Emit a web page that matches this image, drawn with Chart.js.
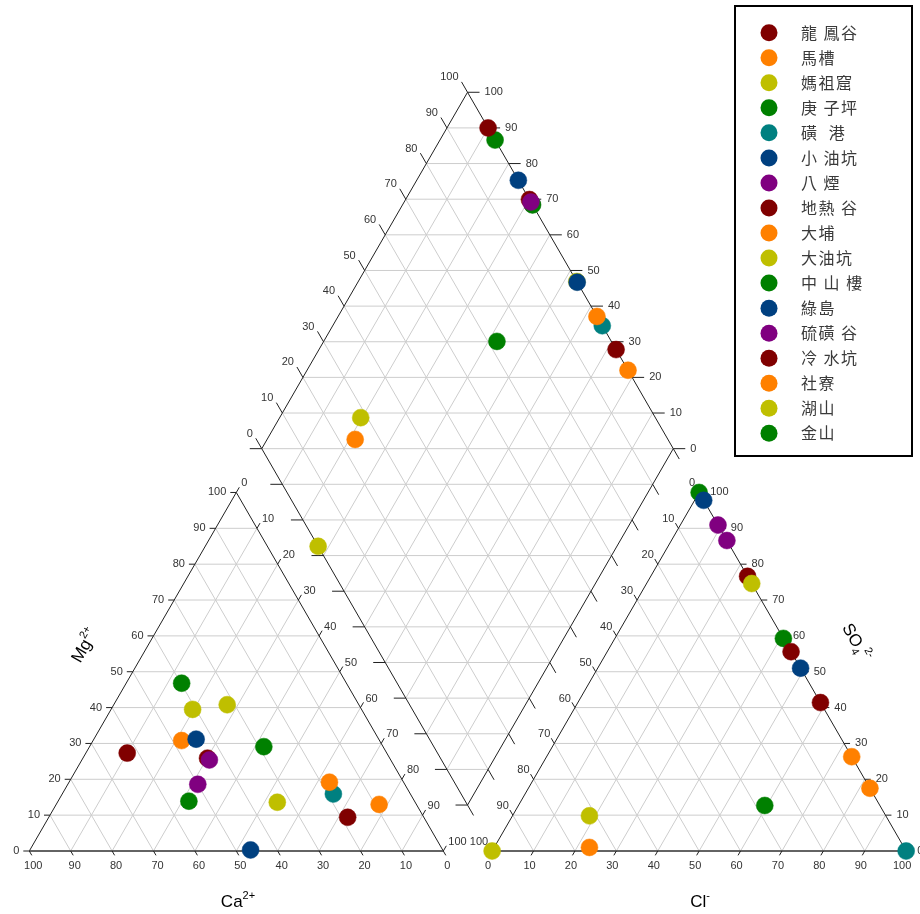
<!DOCTYPE html>
<html>
<head>
<meta charset="utf-8">
<script src="https://cdn.jsdelivr.net/npm/chart.js@4.4.1/dist/chart.umd.min.js"></script>
<style>
  html, body { margin: 0; padding: 0; background: #ffffff; }
  #wrap { width: 920px; height: 914px; position: relative; }
</style>
</head>
<body>
<div id="wrap"><canvas id="piper" width="920" height="914"></canvas></div>
<script>
// Sampling sites (legend order) and their marker colours
const sites = ['龍 鳳谷', '馬槽', '媽祖窟', '庚 子坪', '磺  港', '小 油坑', '八 煙', '地熱 谷', '大埔',
               '大油坑', '中 山 樓', '綠島', '硫磺 谷', '冷 水坑', '社寮', '湖山', '金山'];
const colors = ['#800000', '#ff8000', '#bfbf00', '#008000', '#008080', '#004080', '#800080',
                '#800000', '#ff8000', '#bfbf00', '#008000', '#004080', '#800080',
                '#800000', '#ff8000', '#bfbf00', '#008000'];

// Cation composition, % of meq
const ca  = [44.0, 47.8, 40.8, 39.8, 18.6, 44.1, 50.0, 18.4, 17.9, 33.3, 54.5, 46.4, 43.8, 62.7,  9.0, 31.8, 28.8];
const mg  = [25.9, 30.8, 39.5, 46.8, 15.9, 31.2, 18.6,  9.4, 19.2, 13.6, 13.9,  0.3, 25.4, 27.3, 13.0, 40.8, 29.1];
const naK = [30.1, 21.4, 19.7, 13.4, 65.5, 24.7, 31.4, 72.2, 62.9, 53.1, 31.6, 53.3, 30.8, 10.0, 78.0, 27.4, 42.1];

// Anion composition, % of meq
const cl   = [23.4, 23.0, 18.6,   0.0, 100.0,  2.2,  9.1, 58.6, 73.7, 25.4, 40.7, 49.0, 13.4, 44.4, 82.5,   0.0, 59.5];
const so4  = [76.6,  1.0,  9.8, 100.0,   0.0, 97.8, 90.9, 41.4, 26.3, 74.6, 59.3, 51.0, 86.6, 55.6, 17.5,   0.0, 12.7];
const hco3 = [ 0.0, 76.0, 71.6,   0.0,   0.0,  0.0,  0.0,  0.0,  0.0,  0.0,  0.0,  0.0,  0.0,  0.0,  0.0, 100.0, 27.8];

// Scale labels along every triangle / diamond edge
const tickValues = [0, 10, 20, 30, 40, 50, 60, 70, 80, 90, 100];

// ---- diagram geometry (data units: 1 unit = 1 % of a triangle side) ----
const S3 = Math.sqrt(3) / 2;
const ANION_X0 = 111.8;                          // left corner of the anion triangle
const DIAMOND = { bx: 105.85, by: 11.1, side: 99.4 };
const PX = 4.14;                                 // pixels per unit
const ORIGIN_X = 29.3, BASE_Y = 851;             // pixel position of the Ca corner

function catXY(caP, mgP, naP) { return { x: naP + mgP / 2, y: mgP * S3 }; }
function anXY(hco3P, clP, so4P) { return { x: ANION_X0 + clP + so4P / 2, y: so4P * S3 }; }
function diaXY(cm, cs) {
  const k = DIAMOND.side / 100;
  return { x: DIAMOND.bx + k * 0.5 * (cs - cm), y: DIAMOND.by + k * S3 * (cs + cm) };
}

const datasets = sites.map((name, i) => ({
  label: name,
  data: [
    catXY(ca[i], mg[i], naK[i]),
    anXY(hco3[i], cl[i], so4[i]),
    diaXY(ca[i] + mg[i], cl[i] + so4[i])
  ],
  backgroundColor: colors[i],
  borderColor: colors[i],
  borderWidth: 0.5,
  pointRadius: 8.5,
  pointHoverRadius: 8.5,
  order: sites.length - i          // later sites are painted on top
}));

const TICK_FONT = '11px "Liberation Sans", Arial, sans-serif';
const TITLE_FAMILY = '"Liberation Sans", Arial, sans-serif';

const piperFrame = {
  id: 'piperFrame',
  beforeDatasetsDraw(chart) {
    const { ctx, scales: { x, y } } = chart;
    const P = p => [x.getPixelForValue(p.x), y.getPixelForValue(p.y)];
    const seg = (a, b) => { const [x1, y1] = P(a), [x2, y2] = P(b); ctx.moveTo(x1, y1); ctx.lineTo(x2, y2); };
    const poly = pts => {
      ctx.beginPath();
      pts.forEach((p, i) => { const [px, py] = P(p); i ? ctx.lineTo(px, py) : ctx.moveTo(px, py); });
      ctx.closePath(); ctx.stroke();
    };
    ctx.save();

    // grid
    ctx.strokeStyle = '#cdcdcd';
    ctx.lineWidth = 1;
    ctx.beginPath();
    tickValues.filter(k => k > 0 && k < 100).forEach(k => {
      seg(catXY(100 - k, k, 0), catXY(0, k, 100 - k));
      seg(catXY(k, 100 - k, 0), catXY(k, 0, 100 - k));
      seg(catXY(0, 100 - k, k), catXY(100 - k, 0, k));
      seg(anXY(100 - k, 0, k), anXY(0, 100 - k, k));
      seg(anXY(k, 0, 100 - k), anXY(k, 100 - k, 0));
      seg(anXY(0, k, 100 - k), anXY(100 - k, k, 0));
      seg(diaXY(k, 0), diaXY(k, 100));
      seg(diaXY(0, k), diaXY(100, k));
    });
    for (let s = 10; s < 200; s += 10) {
      if (s <= 100) seg(diaXY(s, 0), diaXY(0, s));
      else seg(diaXY(100, s - 100), diaXY(s - 100, 100));
    }
    ctx.stroke();

    // outlines
    ctx.strokeStyle = '#202020';
    ctx.lineWidth = 1;
    poly([catXY(100, 0, 0), catXY(0, 100, 0), catXY(0, 0, 100)]);
    poly([anXY(100, 0, 0), anXY(0, 0, 100), anXY(0, 100, 0)]);
    poly([diaXY(0, 0), diaXY(100, 0), diaXY(100, 100), diaXY(0, 100)]);
    ctx.strokeStyle = '#555555';
    ctx.lineWidth = 1.6;
    ctx.beginPath();
    seg(catXY(100, 0, 0), catXY(0, 0, 100));
    seg(anXY(100, 0, 0), anXY(0, 100, 0));
    ctx.stroke();

    // ticks and their labels
    const DIR = {
      L: [-1, 0], R: [1, 0], UL: [-0.5, -S3], UR: [0.5, -S3], DL: [-0.5, S3], DR: [0.5, S3]
    };
    ctx.font = TICK_FONT;
    ctx.fillStyle = '#333333';
    ctx.textBaseline = 'middle';
    const axis = (pointFor, dir, len, label) => {
      ctx.strokeStyle = '#202020';
      ctx.lineWidth = 1;
      tickValues.forEach(k => {
        const [px, py] = P(pointFor(k));
        ctx.beginPath();
        ctx.moveTo(px, py);
        ctx.lineTo(px + DIR[dir][0] * len, py + DIR[dir][1] * len);
        ctx.stroke();
        if (label) {
          ctx.textAlign = label.align;
          ctx.fillText(String(k), px + label.dx, py + label.dy);
        }
      });
    };
    // cation triangle
    axis(k => catXY(100 - k, k, 0), 'L', 6, { align: 'right', dx: -10, dy: 0 });
    axis(k => catXY(k, 0, 100 - k), 'DR', 5, { align: 'center', dx: 4, dy: 15 });
    axis(k => catXY(0, 100 - k, k), 'UR', 6, { align: 'left', dx: 5, dy: -9 });
    // anion triangle
    axis(k => anXY(100 - k, k, 0), 'DL', 5, { align: 'center', dx: -4, dy: 15 });
    axis(k => anXY(0, 100 - k, k), 'R', 6, { align: 'left', dx: 11, dy: 0 });
    axis(k => anXY(k, 0, 100 - k), 'UL', 6, { align: 'right', dx: -4, dy: -9 });
    // diamond
    axis(k => diaXY(100, k), 'UL', 12, { align: 'right', dx: -9, dy: -15 });
    axis(k => diaXY(k, 100), 'R', 12, { align: 'left', dx: 17, dy: 0 });
    axis(k => diaXY(k, 0), 'L', 12, null);
    axis(k => diaXY(0, k), 'DR', 12, null);

    ctx.restore();
  },
  afterDraw(chart) {
    const { ctx } = chart;
    ctx.save();

    // axis titles with super/subscripts
    const rich = (cx, cy, angle, parts) => {
      ctx.save();
      ctx.translate(cx, cy);
      ctx.rotate(angle);
      ctx.fillStyle = '#000000';
      ctx.textAlign = 'left';
      ctx.textBaseline = 'alphabetic';
      let w = 0;
      parts.forEach(p => { ctx.font = `${p.s}px ${TITLE_FAMILY}`; p.w = ctx.measureText(p.t).width; w += p.w; });
      let px = -w / 2;
      parts.forEach(p => { ctx.font = `${p.s}px ${TITLE_FAMILY}`; ctx.fillText(p.t, px, 6 + p.dy); px += p.w; });
      ctx.restore();
    };
    rich(238, 901, 0, [{ t: 'Ca', s: 17, dy: 0 }, { t: '2+', s: 11, dy: -8 }]);
    rich(700, 901, 0, [{ t: 'Cl', s: 17, dy: 0 }, { t: '-', s: 11, dy: -8 }]);
    rich(84, 645, -Math.PI / 3, [{ t: 'Mg', s: 17, dy: 0 }, { t: '2+', s: 11, dy: -8 }]);
    rich(857, 642, Math.PI / 3, [{ t: 'SO', s: 17, dy: 0 }, { t: '4', s: 11, dy: 4 }, { t: '2-', s: 11, dy: -8 }]);

    // legend
    const LX = 735, LY = 6, LW = 177, LH = 450, ROW0 = 32.7, ROW = 25.04;
    ctx.strokeStyle = '#000000';
    ctx.lineWidth = 2;
    ctx.strokeRect(LX, LY, LW, LH);
    ctx.font = '16px "Noto Sans CJK TC", sans-serif';
    if ('letterSpacing' in ctx) ctx.letterSpacing = '1.5px';
    ctx.textAlign = 'left';
    ctx.textBaseline = 'middle';
    chart.data.datasets.forEach((ds, i) => {
      const cy = ROW0 + ROW * i;
      ctx.beginPath();
      ctx.arc(769, cy, 8.5, 0, Math.PI * 2);
      ctx.fillStyle = ds.backgroundColor;
      ctx.fill();
      ctx.fillStyle = '#3a3a3a';
      ctx.fillText(ds.label, 801, cy);
    });
    ctx.restore();
  }
};

new Chart(document.getElementById('piper'), {
  type: 'scatter',
  data: { datasets },
  options: {
    responsive: false,
    maintainAspectRatio: false,
    animation: false,
    events: [],
    layout: { padding: 0, autoPadding: false },
    scales: {
      x: { type: 'linear', display: false, min: -ORIGIN_X / PX, max: (920 - ORIGIN_X) / PX },
      y: { type: 'linear', display: false, min: -(914 - BASE_Y) / PX, max: BASE_Y / PX }
    },
    plugins: { legend: { display: false }, tooltip: { enabled: false } }
  },
  plugins: [piperFrame]
});
</script>
</body>
</html>
